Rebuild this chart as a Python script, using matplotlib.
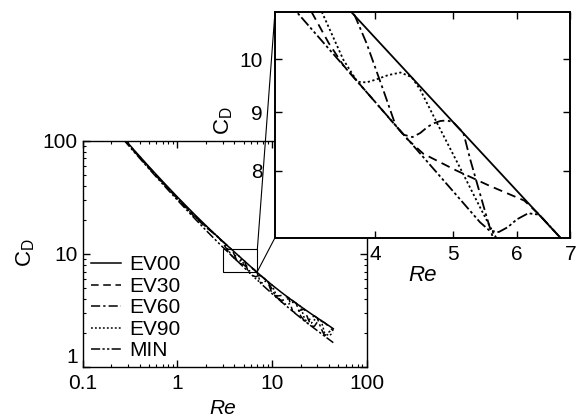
"""Drag coefficient against Reynolds number, with a zoomed inset around Re = 3-7."""

import matplotlib.pyplot as plt
from matplotlib.patches import ConnectionPatch, Rectangle
from matplotlib.ticker import NullLocator

plt.rcParams["font.family"] = ["Liberation Sans", "DejaVu Sans"]
plt.rcParams["mathtext.fontset"] = "custom"
plt.rcParams["mathtext.rm"] = "Liberation Sans"
plt.rcParams["mathtext.it"] = "Liberation Sans:italic"

# ---- data -------------------------------------------------------------
re_ev00 = [0.27, 0.35, 0.5, 0.7, 1, 1.5, 2, 2.5, 3, 3.73, 5, 6.8, 8, 10, 12.5,
           15, 18, 22, 26, 30, 36, 44.4]
cd_ev00 = [105.6, 82.5, 59.2, 43.7, 31.9, 22.6, 17.86, 14.94, 12.96, 11.0, 8.82,
           7.0, 6.22, 5.33, 4.60, 4.10, 3.67, 3.26, 2.96, 2.73, 2.47, 2.19]

re_ev30 = [0.27, 0.35, 0.5, 0.7, 1, 1.5, 2, 2.4, 2.76, 3.0, 3.33, 3.5, 3.65, 4.0,
           4.38, 4.59, 5.04, 5.54, 6.13, 6.4, 6.8, 8, 9, 10, 11, 12.5, 14, 15,
           16.5, 18, 20, 22, 24, 26, 28, 30, 33, 36, 40, 44.4]
cd_ev30 = [103.5, 80.5, 57.5, 42.5, 31.0, 21.5, 17.2, 15.42, 13.82, 12.6, 11.0,
           10.33, 9.88, 9.18, 8.53, 8.28, 8.01, 7.77, 7.54, 7.33, 7.0, 6.22, 5.73,
           4.47, 4.25, 4.30, 4.22, 4.10, 3.12, 3.0, 3.20, 3.25, 2.68, 2.31, 2.30,
           2.50, 2.56, 2.47, 2.28, 2.10]

re_ev60 = [0.27, 0.35, 0.5, 0.7, 1, 1.5, 2, 2.5, 3, 3.77, 3.9, 4.1, 4.24, 4.34,
           4.45, 4.55, 4.65, 4.73, 4.82, 4.91, 5.0, 5.15, 5.25, 5.37, 5.5, 5.6,
           5.8, 6.0, 6.4, 6.8, 7.0, 7.5, 8, 9, 10, 11, 12.5, 14, 15, 16.5, 18, 20,
           22, 24, 26, 28, 30, 33, 36, 40, 44.4]
cd_ev60 = [104.5, 81.6, 58.4, 42.9, 31.1, 21.9, 17.4, 14.8, 12.96, 10.92, 10.33,
           9.37, 8.76, 8.60, 8.56, 8.63, 8.74, 8.80, 8.84, 8.85, 8.82, 8.63, 8.19,
           7.75, 7.31, 7.01, 6.82, 6.64, 6.38, 6.30, 6.40, 6.45, 6.22, 5.73, 4.9,
           4.17, 3.9, 3.95, 4.05, 3.87, 3.67, 2.85, 2.57, 2.55, 2.75, 2.84, 2.73,
           2.2, 1.90, 2.05, 2.19]

re_ev90 = [0.27, 0.35, 0.5, 0.7, 1, 1.5, 2, 2.5, 3, 3.17, 3.43, 3.55, 3.65, 3.8,
           3.9, 4.0, 4.15, 4.3, 4.44, 4.55, 4.8, 5.1, 5.4, 5.62, 5.8, 6.0, 6.4,
           6.8, 7, 7.5, 8, 8.5, 9, 10, 11, 12.5, 14, 15, 16.5, 18, 20, 22, 24, 26,
           28, 30, 33, 36, 40, 44.4]
cd_ev90 = [103.8, 80.9, 57.9, 42.5, 30.9, 21.7, 17.6, 14.94, 12.96, 12.43, 11.0,
           10.43, 9.99, 9.56, 9.55, 9.60, 9.69, 9.74, 9.65, 9.41, 8.74, 8.05, 7.44,
           7.05, 6.82, 6.64, 6.30, 6.0, 5.87, 5.62, 5.55, 5.75, 5.70, 5.33, 4.4,
           3.80, 3.6, 3.62, 3.75, 3.67, 3.45, 2.7, 2.43, 2.45, 2.62, 2.70, 2.59,
           2.0, 1.9, 2.02]

re_min = [0.27, 0.35, 0.5, 0.7, 1, 1.5, 2, 2.5, 3, 3.19, 4, 5, 5.4, 5.55, 5.7,
          5.85, 6.0, 6.2, 6.4, 6.6, 6.8, 6.95, 7.25, 7.6, 8, 10, 12.5, 15, 18, 22,
          26, 30, 36, 44.4]
cd_min = [102.1, 79.4, 56.6, 41.4, 29.93, 20.86, 16.24, 13.44, 11.55, 11.0, 9.18,
          7.68, 7.22, 7.10, 7.08, 7.15, 7.26, 7.35, 7.33, 7.16, 7.0, 6.88, 6.19,
          5.49, 5.29, 4.47, 3.80, 3.34, 2.94, 2.57, 2.31, 2.11, 1.88, 1.65]

labels = ["EV00", "EV30", "EV60", "EV90", "MIN"]
series = [(re_ev00, cd_ev00), (re_ev30, cd_ev30), (re_ev60, cd_ev60),
          (re_ev90, cd_ev90), (re_min, cd_min)]
styles = ["-", (0, (5, 3)), (0, (6, 2, 1.5, 2)), (0, (1.2, 1.4)),
          (0, (6, 1.5, 1.5, 1.5, 1.5, 1.5))]

zoom_x = (3, 7)
zoom_y = (7, 11)

# ---- figure -----------------------------------------------------------
fig = plt.figure(figsize=(5.77, 4.19), dpi=100)

ax = fig.add_axes([0.1433, 0.1234, 0.4922, 0.5408])
for (x, y), ls, lab in zip(series, styles, labels):
    ax.plot(x, y, color="black", lw=1.1, linestyle=ls, label=lab)
ax.set_xscale("log")
ax.set_yscale("log")
ax.set_xlim(0.1, 100)
ax.set_ylim(1, 100)
ax.set_xticks([0.1, 1, 10, 100], labels=["0.1", "1", "10", "100"])
ax.set_yticks([1, 10, 100], labels=["1", "10", "100"])
ax.tick_params(which="both", direction="in", top=True, right=True,
               labelsize=15)
ax.tick_params(which="major", length=5, width=1.0)
ax.tick_params(which="minor", length=2.5, width=0.8)
ax.tick_params(axis="x", pad=4.5)
ax.tick_params(axis="y", pad=3.5)
# lift the lowest y label so it clears the "0.1" below it
ax.get_yticklabels()[0].set_verticalalignment("bottom")
for sp in ax.spines.values():
    sp.set_linewidth(1.0)
ax.set_xlabel("Re", fontsize=15, fontstyle="italic")
ax.xaxis.set_label_coords(0.494, -0.142)
ax.set_ylabel(r"C$_{\mathrm{D}}$", fontsize=16)
ax.yaxis.set_label_coords(-0.16, 0.504)

ax.legend(loc="lower left", bbox_to_anchor=(0.03, 0.03), frameon=False,
          fontsize=15, handlelength=1.45, handletextpad=0.4,
          labelspacing=0.12, borderaxespad=0, borderpad=0)

# box marking the zoomed region
ax.add_patch(Rectangle((zoom_x[0], zoom_y[0]), zoom_x[1] - zoom_x[0],
                       zoom_y[1] - zoom_y[0], fill=False, ec="black", lw=0.8))

# ---- inset ------------------------------------------------------------
axi = fig.add_axes([0.4766, 0.4327, 0.5121, 0.5394])
axi.set_facecolor("white")
for (x, y), ls in zip(series, styles):
    axi.plot(x, y, color="black", lw=1.3, linestyle=ls)
axi.set_xscale("log")
axi.set_yscale("log")
axi.set_xlim(*zoom_x)
axi.set_ylim(*zoom_y)
axi.xaxis.set_minor_locator(NullLocator())
axi.yaxis.set_minor_locator(NullLocator())
axi.set_xticks([4, 5, 6, 7], labels=["4", "5", "6", "7"])
axi.set_yticks([8, 9, 10], labels=["8", "9", "10"])
axi.tick_params(which="both", direction="in", top=True, right=True,
                labelsize=15, length=5, width=1.0)
axi.tick_params(axis="x", pad=5)
axi.tick_params(axis="y", pad=9)
for sp in axi.spines.values():
    sp.set_linewidth(1.4)
axi.set_xlabel("Re", fontsize=16, fontstyle="italic")
axi.xaxis.set_label_coords(0.501, -0.122)
axi.set_ylabel(r"C$_{\mathrm{D}}$", fontsize=16)
axi.yaxis.set_label_coords(-0.135, 0.52)

# leader lines from the box to the inset corners
for yb, yi in [(zoom_y[1], 1), (zoom_y[0], 0)]:
    con = ConnectionPatch(xyA=(zoom_x[1], yb), coordsA=ax.transData,
                          xyB=(0, yi), coordsB=axi.transAxes,
                          color="black", lw=0.8)
    fig.add_artist(con)

fig.savefig("out.png", dpi=100)
